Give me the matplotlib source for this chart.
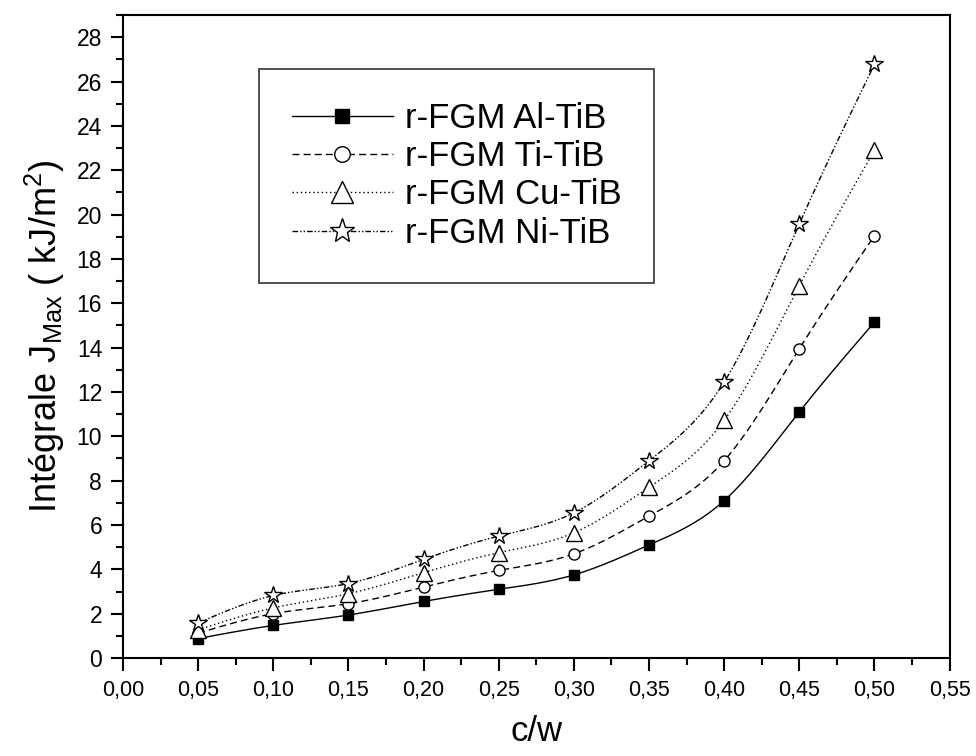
import numpy as np
import matplotlib
matplotlib.use("Agg")
import matplotlib.pyplot as plt
from matplotlib.lines import Line2D
from matplotlib.ticker import MultipleLocator, FuncFormatter

plt.rcParams['font.family'] = ['Liberation Sans', 'DejaVu Sans']
plt.rcParams['mathtext.fontset'] = 'custom'
plt.rcParams['mathtext.rm'] = 'Liberation Sans'
plt.rcParams['mathtext.it'] = 'Liberation Sans'

# rapport c/w
cw = [0.05, 0.10, 0.15, 0.20, 0.25, 0.30, 0.35, 0.40, 0.45, 0.50]

al_tib = [0.88, 1.47, 1.94, 2.55, 3.10, 3.75, 5.10, 7.10, 11.10, 15.15]
ti_tib = [1.12, 2.00, 2.45, 3.20, 3.95, 4.70, 6.40, 8.90, 13.95, 19.05]
cu_tib = [1.27, 2.26, 2.90, 3.85, 4.75, 5.65, 7.70, 10.72, 16.80, 22.90]
ni_tib = [1.58, 2.82, 3.36, 4.45, 5.50, 6.55, 8.90, 12.45, 19.58, 26.78]

labels = ['r-FGM Al-TiB', 'r-FGM Ti-TiB', 'r-FGM Cu-TiB', 'r-FGM Ni-TiB']


def spline(x, y, n=300):
    # spline cubique naturelle pour le tracé lissé
    x = np.asarray(x, float)
    y = np.asarray(y, float)
    k = len(x)
    h = np.diff(x)
    A = np.zeros((k, k))
    b = np.zeros(k)
    A[0, 0] = A[-1, -1] = 1
    for i in range(1, k - 1):
        A[i, i - 1] = h[i - 1]
        A[i, i] = 2 * (h[i - 1] + h[i])
        A[i, i + 1] = h[i]
        b[i] = 3 * ((y[i + 1] - y[i]) / h[i] - (y[i] - y[i - 1]) / h[i - 1])
    c = np.linalg.solve(A, b)
    xs = np.linspace(x[0], x[-1], n)
    idx = np.clip(np.searchsorted(x, xs) - 1, 0, k - 2)
    dx = xs - x[idx]
    bb = (y[idx + 1] - y[idx]) / h[idx] - h[idx] * (2 * c[idx] + c[idx + 1]) / 3
    dd = (c[idx + 1] - c[idx]) / (3 * h[idx])
    ys = y[idx] + bb * dx + c[idx] * dx ** 2 + dd * dx ** 3
    return xs, ys


styles = [
    dict(ls='-', marker='s', mfc='black', ms=7),
    dict(ls=(0, (5, 3)), marker='o', mfc='white', ms=8),
    dict(ls=(0, (1, 2)), marker='^', mfc='white', ms=11),
    dict(ls=(0, (4, 1.5, 1, 1.5, 1, 1.5)), marker='*', mfc='white', ms=13),
]

fig = plt.figure(figsize=(9.76, 7.56), dpi=100)
ax = fig.add_axes([0.126, 0.1296, 0.847, 0.8505])

handles = []
for ys, lab, st in zip([al_tib, ti_tib, cu_tib, ni_tib], labels, styles):
    sx, sy = spline(cw, ys)
    ax.plot(sx, sy, color='black', lw=1, ls=st['ls'])
    ax.plot(cw, ys, ls='none', marker=st['marker'], mfc=st['mfc'],
            mec='black', mew=1, ms=st['ms'], zorder=3)
    handles.append(Line2D([], [], color='black', lw=1, ls=st['ls'],
                          marker=st['marker'], mfc=st['mfc'], mec='black',
                          ms=st['ms'] * 1.4))

ax.set_xlim(0, 0.55)
ax.set_ylim(0, 29)
ax.xaxis.set_major_locator(MultipleLocator(0.05))
ax.xaxis.set_minor_locator(MultipleLocator(0.025))
ax.yaxis.set_major_locator(MultipleLocator(2))
ax.yaxis.set_minor_locator(MultipleLocator(1))
ax.xaxis.set_major_formatter(FuncFormatter(lambda v, p: f"{v:.2f}".replace('.', ',')))
ax.tick_params(which='major', direction='out', length=9, width=1.5, labelsize=16.5, top=False, right=False)
ax.tick_params(which='minor', direction='out', length=5, width=1.5, top=False, right=False)
ax.tick_params(axis='x', which='major', pad=7, labelsize=15.5)
ax.tick_params(axis='y', which='major', pad=6)
for sp in ax.spines.values():
    sp.set_linewidth(1.5)

ax.set_xlabel('c/w', fontsize=25)
ax.xaxis.set_label_coords(0.5, -0.088)
ax.set_ylabel(r'Intégrale J$_{\mathrm{Max}}$ ( kJ/m$^{2}$)', fontsize=26)
ax.yaxis.set_label_coords(-0.068, 0.5)

leg = ax.legend(handles, labels, loc='upper left', bbox_to_anchor=(0.1645, 0.916),
                fontsize=25, frameon=True, fancybox=False, edgecolor='black',
                handlelength=2.9, handletextpad=0.35, labelspacing=0.15,
                borderpad=0.95, borderaxespad=0)
leg.get_frame().set_linewidth(1.2)

fig.savefig('out.png', dpi=100)
